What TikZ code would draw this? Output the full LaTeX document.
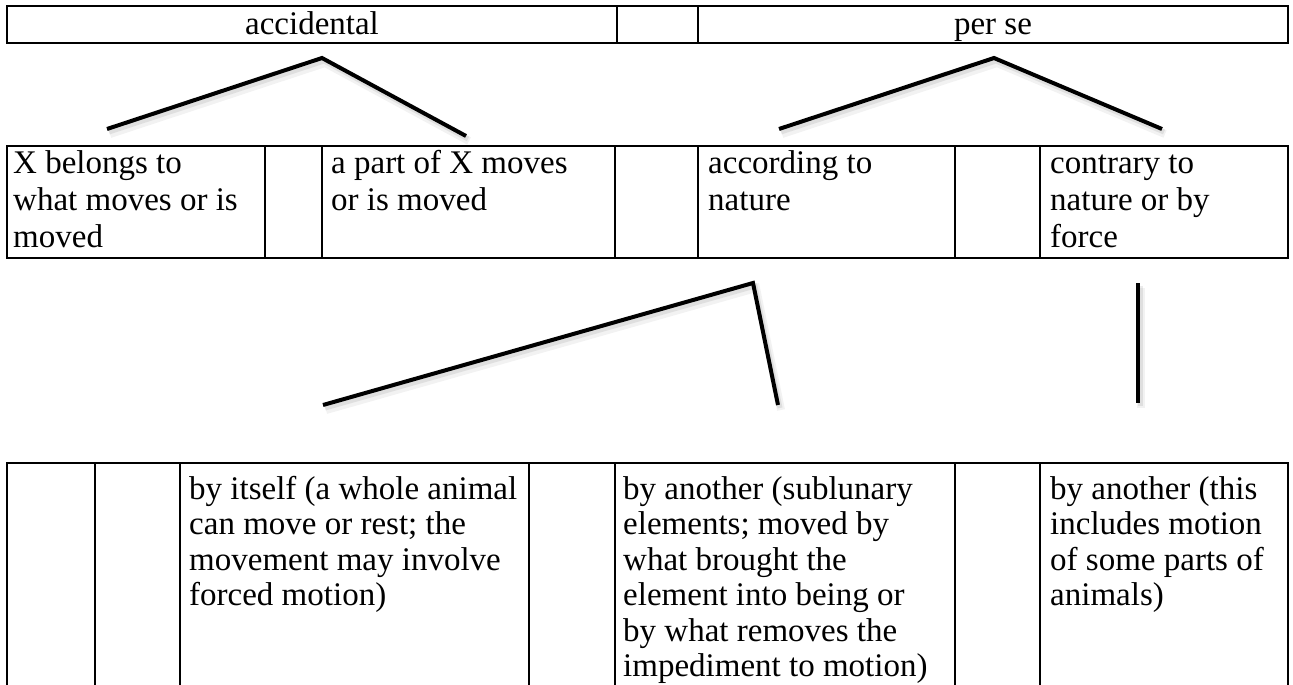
\documentclass[tikz,border=0pt]{standalone}
\usepackage{fontspec}
\setmainfont{Liberation Serif}
\newcommand\firstln{\rule{0pt}{30pt}}
\begin{document}
\begin{tikzpicture}[x=1pt,y=-1pt,
  grid/.style={line width=2pt, line cap=rect},
  capline/.style={line width=4pt, line join=miter},
  shadowA/.style={line width=8pt, draw=black, opacity=0.05},
  shadowB/.style={line width=5pt, draw=black, opacity=0.08},
  txt/.style={anchor=north west, inner sep=0pt, align=left, font=\fontsize{33}{37}\selectfont},
  txtb/.style={txt, font=\fontsize{33}{35.5}\selectfont},
  ctr/.style={anchor=base, inner sep=0pt, font=\fontsize{33}{37}\selectfont}]
\useasboundingbox (0,0) rectangle (1293,685);
% ---------- top table ----------
\draw[grid] (7,6) rectangle (1288,43);
\draw[grid] (617,6) -- (617,43) (698,6) -- (698,43);
\node[ctr] (acc) at (312,35) {accidental};
\node[ctr] (perse) at (993,35) {per se};
% ---------- second table ----------
\draw[grid] (7,146) rectangle (1288,258);
\foreach \x in {265,322,615,698,955,1040} \draw[grid] (\x,146) -- (\x,258);
\node[txt] (xb) at (13,143) {\firstln X belongs to\\what moves or is\\moved};
\node[txt] (ap) at (331,143) {\firstln a part of X moves\\or is moved};
\node[txt] (an) at (708,143) {\firstln according to\\nature};
\node[txt] (cn) at (1050,143) {\firstln contrary to\\nature or by\\force};
% ---------- third table ----------
\draw[grid] (7,700) -- (7,463) -- (1288,463) -- (1288,700);
\foreach \x in {95,180,529,615,955,1040} \draw[grid] (\x,463) -- (\x,700);
\node[txtb] (bi) at (189,469) {\firstln by itself (a whole animal\\can move or rest; the\\movement may involve\\forced motion)};
\node[txtb] (ba) at (623,469) {\firstln by another (sublunary\\elements; moved by\\what brought the\\element into being or\\by what removes the\\impediment to motion)};
\node[txtb] (bt) at (1050,469) {\firstln by another (this\\includes motion\\of some parts of\\animals)};
% ---------- connector points ----------
\coordinate (La) at (107,129);
\coordinate (Lt) at (322,58);
\coordinate (Lb) at (466,136);
\coordinate (Ra) at (779,129);
\coordinate (Rt) at (994,58);
\coordinate (Rb) at (1162,129);
\coordinate (Ba) at (323,405);
\coordinate (Bt) at (753,283);
\coordinate (Bb) at (778,405);
\coordinate (Va) at (1138,283);
\coordinate (Vb) at (1138,403);
% shadows
\foreach \dx/\dy/\s in {3/5/shadowA,2/3/shadowB}{
  \draw[\s] ([shift={(\dx,\dy)}]La) -- ([shift={(\dx,\dy)}]Lt) -- ([shift={(\dx,\dy)}]Lb);
  \draw[\s] ([shift={(\dx,\dy)}]Ra) -- ([shift={(\dx,\dy)}]Rt) -- ([shift={(\dx,\dy)}]Rb);
  \draw[\s] ([shift={(\dx,\dy)}]Ba) -- ([shift={(\dx,\dy)}]Bt) -- ([shift={(\dx,\dy)}]Bb);
  \draw[\s] ([shift={(\dx,\dy)}]Va) -- ([shift={(\dx,\dy)}]Vb);
}
% lines
\draw[capline] (La) -- (Lt) -- (Lb);
\draw[capline] (Ra) -- (Rt) -- (Rb);
\draw[capline] (Ba) -- (Bt) -- (Bb);
\draw[capline] (Va) -- (Vb);
\end{tikzpicture}
\end{document}
